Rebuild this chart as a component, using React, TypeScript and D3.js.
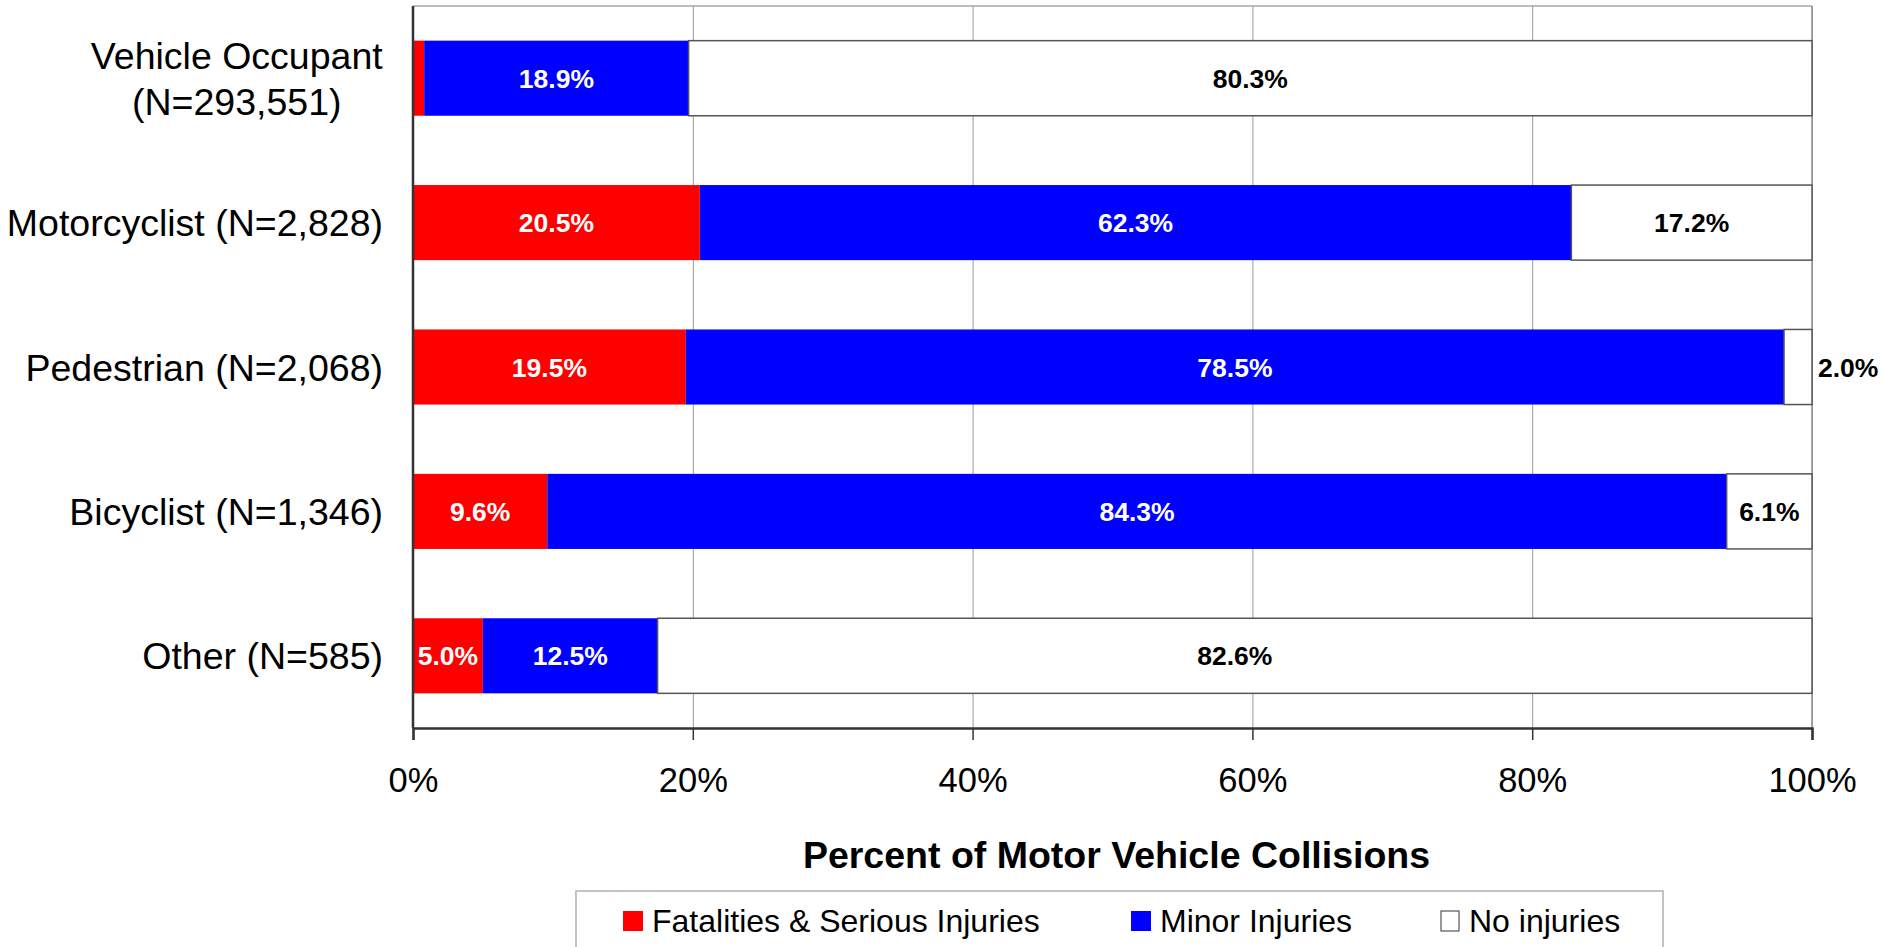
import React, { useEffect, useRef } from "react";
import * as d3 from "d3";

// categories (top to bottom), second line after "\n"
const categories = [
  "Vehicle Occupant\n(N=293,551)",
  "Motorcyclist (N=2,828)",
  "Pedestrian (N=2,068)",
  "Bicyclist (N=1,346)",
  "Other (N=585)",
];

// percent of collisions by severity
const fatalSerious = [0.8, 20.5, 19.5, 9.6, 5.0];
const minorInjuries = [18.9, 62.3, 78.5, 84.3, 12.5];
const noInjuries = [80.3, 17.2, 2.0, 6.1, 82.6];

const seriesNames = ["Fatalities & Serious Injuries", "Minor Injuries", "No injuries"];
const seriesKeys = ["fatal", "minor", "none"];
const seriesColors = ["#ff0000", "#0000ff", "#ffffff"];
const labelColors = ["#ffffff", "#ffffff", "#000000"];

const xTicks = [0, 0.2, 0.4, 0.6, 0.8, 1];
const xTitle = "Percent of Motor Vehicle Collisions";

const FONT = "'Liberation Sans', Arial, sans-serif";

export default function App() {
  const ref = useRef<SVGSVGElement>(null);

  useEffect(() => {
    const svg = d3.select(ref.current);
    svg.selectAll("*").remove();

    const margin = { top: 6, right: 71, bottom: 219, left: 413 };
    const W = 1883, H = 947;
    const w = W - margin.left - margin.right;
    const h = H - margin.top - margin.bottom;

    const table = categories.map((c, i) => ({
      cat: c,
      fatal: fatalSerious[i],
      minor: minorInjuries[i],
      none: noInjuries[i],
    }));

    // Excel style 100% stacked bars
    const stacked = d3.stack<any>().keys(seriesKeys).offset(d3.stackOffsetExpand)(table);

    const x = d3.scaleLinear().domain([0, 1]).range([0, w]);
    const y = d3
      .scaleBand()
      .domain(categories)
      .range([0, h])
      .paddingInner(0.48)
      .paddingOuter(0.24);

    const g = svg.append("g").attr("transform", `translate(${margin.left},${margin.top})`);

    // plot area frame (top / right)
    g.append("line").attr("x1", 0).attr("x2", w).attr("y1", 0).attr("y2", 0)
      .attr("stroke", "#a6a6a6").attr("stroke-width", 1.5);
    g.append("line").attr("x1", w).attr("x2", w).attr("y1", 0).attr("y2", h)
      .attr("stroke", "#8c8c8c").attr("stroke-width", 1.5);

    // gridlines
    const grid = g.append("g").call(
      d3.axisBottom(x).tickValues(xTicks).tickSize(h).tickFormat(() => "")
    );
    grid.select(".domain").remove();
    grid.selectAll("line").attr("stroke", "#999").attr("stroke-width", 1);

    // bars
    stacked.forEach((layer: any, si: number) => {
      g.append("g")
        .selectAll("rect")
        .data(layer)
        .join("rect")
        .attr("x", (d: any) => x(d[0]))
        .attr("y", (d: any) => y(d.data.cat)!)
        .attr("width", (d: any) => x(d[1]) - x(d[0]))
        .attr("height", y.bandwidth())
        .attr("fill", seriesColors[si])
        .attr("stroke", si === 2 ? "#555" : "none")
        .attr("stroke-width", 1.5);
    });

    // value labels
    stacked.forEach((layer: any, si: number) => {
      const key = seriesKeys[si];
      g.append("g")
        .selectAll("text")
        .data(layer.filter((d: any) => d.data[key] >= 1))
        .join("text")
        .each(function (d: any) {
          const x0 = x(d[0]), x1 = x(d[1]);
          const outside = x1 - x0 < 60;
          d3.select(this)
            .attr("x", outside ? x1 + 6 : (x0 + x1) / 2)
            .attr("text-anchor", outside ? "start" : "middle")
            .attr("fill", outside ? "#000" : labelColors[si]);
        })
        .attr("y", (d: any) => y(d.data.cat)! + y.bandwidth() / 2)
        .attr("dy", "0.36em")
        .style("font-family", FONT)
        .style("font-weight", "bold")
        .style("font-size", "26.5px")
        .text((d: any) => d.data[key].toFixed(1) + "%");
    });

    // x axis
    const xAxis = g
      .append("g")
      .attr("transform", `translate(0,${h})`)
      .call(
        d3.axisBottom(x).tickValues(xTicks).tickSize(12).tickPadding(28).tickFormat(d3.format(".0%"))
      );
    xAxis.select(".domain").attr("stroke", "#333").attr("stroke-width", 2.5);
    xAxis.selectAll("line").attr("stroke", "#333").attr("stroke-width", 1.5);
    xAxis.selectAll("text")
      .attr("fill", "#000")
      .style("font-family", FONT)
      .style("font-size", "34.5px");

    // y axis line + category labels
    g.append("line").attr("x1", 0).attr("x2", 0).attr("y1", 0).attr("y2", h)
      .attr("stroke", "#333").attr("stroke-width", 2.5);

    const catLabels = g.append("g");
    categories.forEach((c) => {
      const lines = c.split("\n");
      const cy = y(c)! + y.bandwidth() / 2;
      const t = catLabels
        .append("text")
        .attr("text-anchor", "middle")
        .style("font-family", FONT)
        .style("font-size", "37.5px")
        .attr("fill", "#000");
      const lh = 46;
      lines.forEach((ln, li) => {
        t.append("tspan")
          .attr("x", -30)
          .attr("y", cy + (li - (lines.length - 1) / 2) * lh)
          .attr("dy", "0.36em")
          .text(ln);
      });
      // right-align single lines, center multi-line block on its widest line
      if (lines.length === 1) {
        t.attr("text-anchor", "end");
      } else {
        const node = t.node() as SVGTextElement;
        const bw = node.getBBox().width;
        t.selectAll("tspan").attr("x", -30 - bw / 2);
      }
    });

    // x title
    g.append("text")
      .attr("x", w / 2 + 4)
      .attr("y", 868 - margin.top)
      .attr("text-anchor", "middle")
      .style("font-family", FONT)
      .style("font-weight", "bold")
      .style("font-size", "37.5px")
      .attr("fill", "#000")
      .text(xTitle);

    // legend
    const legend = svg.append("g").attr("transform", "translate(576,891)");
    legend.append("rect")
      .attr("x", 0).attr("y", 0).attr("width", 1087).attr("height", 70)
      .attr("fill", "#fff").attr("stroke", "#b0b0b0").attr("stroke-width", 1.5);

    const itemX = [47, 555, 865];
    seriesNames.forEach((name, i) => {
      const it = legend.append("g").attr("transform", `translate(${itemX[i]},0)`);
      it.append("rect")
        .attr("x", 0).attr("y", 20).attr("width", i === 2 ? 18 : 20).attr("height", 20)
        .attr("fill", seriesColors[i])
        .attr("stroke", i === 2 ? "#333" : "none")
        .attr("stroke-width", 1);
      it.append("text")
        .attr("x", i === 2 ? 28 : 29)
        .attr("y", 41)
        .style("font-family", FONT)
        .style("font-size", "32px")
        .attr("fill", "#000")
        .text(name);
    });
  }, []);

  return (
    <svg
      ref={ref}
      width={1883}
      height={947}
      style={{ position: "absolute", left: 0, top: 0, background: "#fff" }}
    />
  );
}
